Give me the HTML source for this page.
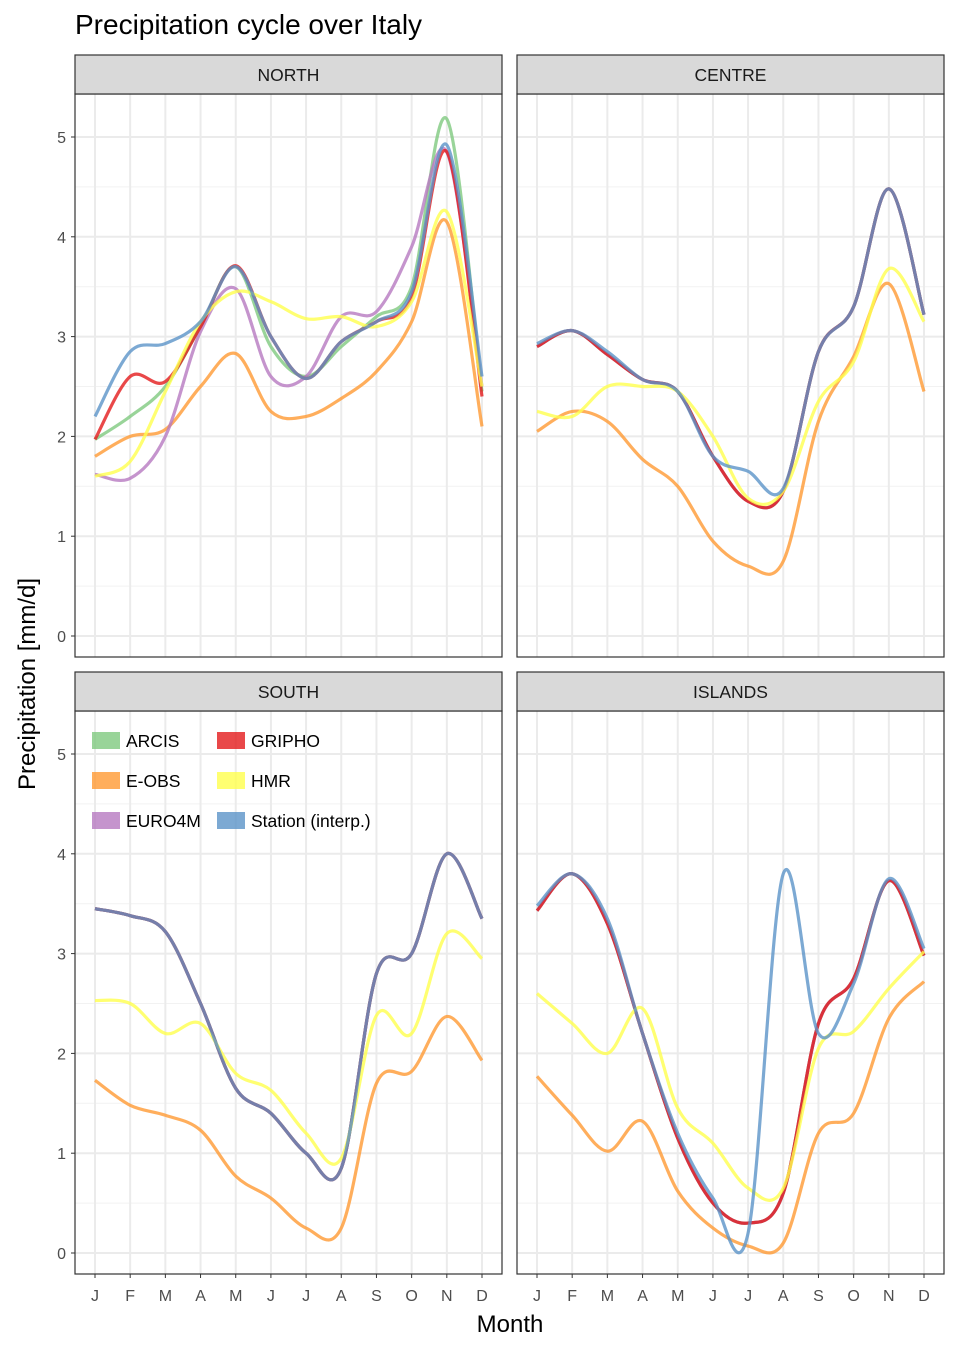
<!DOCTYPE html>
<html><head><meta charset="utf-8"><style>
body{margin:0;background:#fff;}
svg{display:block;font-family:"Liberation Sans",sans-serif;}
</style></head><body>
<svg id="c" width="958" height="1350"></svg>
<script>
const months=["J","F","M","A","M","J","J","A","S","O","N","D"];
const yTicks=[0,1,2,3,4,5];
const seriesNames=["ARCIS","E-OBS","EURO4M","GRIPHO","HMR","Station (interp.)"];
const seriesColors=["#7fc97f","#ff9a33","#b779c0","#e41a1c","#ffff4d","#5b94c8"];
const panelNames=["NORTH","CENTRE","SOUTH","ISLANDS"];
const northARCIS=[1.97,2.2,2.5,3.1,3.7,2.9,2.6,2.9,3.2,3.5,5.18,2.45];
const northEOBS=[1.8,2.0,2.07,2.5,2.83,2.25,2.2,2.38,2.65,3.15,4.15,2.1];
const northEURO4M=[1.62,1.58,2.0,3.05,3.48,2.6,2.6,3.2,3.25,3.9,4.85,2.5];
const northGRIPHO=[1.97,2.6,2.55,3.1,3.71,3.0,2.58,2.95,3.15,3.4,4.85,2.4];
const northHMR=[1.6,1.75,2.45,3.15,3.45,3.35,3.18,3.2,3.1,3.35,4.25,2.5];
const northStation=[2.2,2.85,2.93,3.15,3.7,3.0,2.58,2.95,3.15,3.45,4.92,2.6];
const centreMain=[2.9,3.06,2.82,2.57,2.45,1.8,1.35,1.45,2.85,3.3,4.48,3.22];
const centreEOBS=[2.05,2.25,2.15,1.77,1.5,0.95,0.7,0.75,2.15,2.8,3.53,2.45];
const centreHMR=[2.25,2.2,2.5,2.5,2.45,2.0,1.38,1.45,2.35,2.75,3.68,3.15];
const centreStation=[2.93,3.06,2.85,2.57,2.45,1.8,1.65,1.48,2.85,3.3,4.48,3.22];
const southMain=[3.45,3.38,3.22,2.5,1.65,1.4,1.0,0.85,2.8,3.0,4.0,3.35];
const southEOBS=[1.73,1.48,1.38,1.23,0.77,0.55,0.25,0.25,1.7,1.82,2.37,1.93];
const southHMR=[2.53,2.5,2.2,2.3,1.8,1.63,1.2,0.95,2.38,2.2,3.2,2.95];
const islandsMain=[3.43,3.8,3.3,2.2,1.15,0.5,0.3,0.6,2.3,2.75,3.73,2.98];
const islandsEOBS=[1.77,1.38,1.02,1.32,0.62,0.25,0.07,0.1,1.2,1.4,2.35,2.72];
const islandsHMR=[2.6,2.3,2.0,2.45,1.45,1.1,0.65,0.65,2.05,2.22,2.65,3.02];
const islandsStation=[3.48,3.8,3.35,2.2,1.2,0.55,0.2,3.8,2.2,2.7,3.75,3.05];
const panelData=[
 [northARCIS,northEOBS,northEURO4M,northGRIPHO,northHMR,northStation],
 [centreMain,centreEOBS,centreMain,centreMain,centreHMR,centreStation],
 [southMain,southEOBS,southMain,southMain,southHMR,southMain],
 [islandsMain,islandsEOBS,islandsMain,islandsMain,islandsHMR,islandsStation]
];
const NS="http://www.w3.org/2000/svg";
const svg=document.getElementById('c');
function mk(tag,attrs,parent){const e=document.createElementNS(NS,tag);for(const k in attrs)e.setAttribute(k,attrs[k]);(parent||svg).appendChild(e);return e;}
const panels=[{x:75,y:94,s:55},{x:517,y:94,s:55},{x:75,y:711,s:672},{x:517,y:711,s:672}];
const PW=427,PH=563;
function path(pts){
 let d="M"+pts[0][0]+","+pts[0][1];
 for(let i=0;i<pts.length-1;i++){
  const p0=pts[Math.max(i-1,0)],p1=pts[i],p2=pts[i+1],p3=pts[Math.min(i+2,pts.length-1)];
  const c1=[p1[0]+(p2[0]-p0[0])/6,p1[1]+(p2[1]-p0[1])/6];
  const c2=[p2[0]-(p3[0]-p1[0])/6,p2[1]-(p3[1]-p1[1])/6];
  d+=" C"+c1[0]+","+c1[1]+" "+c2[0]+","+c2[1]+" "+p2[0]+","+p2[1];
 }
 return d;
}
panels.forEach((p,pi)=>{
 const g=mk('g',{});
 
 
 const xs=i=>p.x+20+i*(387/11);
 const ys=v=>p.y+542-v*99.8;
 mk('rect',{x:p.x,y:p.y,width:PW,height:PH,fill:'#fff'},g);
 for(let v=0.5;v<5.6;v+=1) mk('line',{x1:p.x,x2:p.x+PW,y1:ys(v),y2:ys(v),stroke:'#f2f2f2','stroke-width':1},g);
 yTicks.forEach(v=>mk('line',{x1:p.x,x2:p.x+PW,y1:ys(v),y2:ys(v),stroke:'#ebebeb','stroke-width':2},g));
 months.forEach((m,i)=>mk('line',{x1:xs(i),x2:xs(i),y1:p.y,y2:p.y+PH,stroke:'#ebebeb','stroke-width':2},g));
 panelData[pi].forEach((arr,si)=>{
  const l=mk('path',{d:path(arr.map((v,i)=>[xs(i),ys(v)])),fill:'none',stroke:seriesColors[si],'stroke-width':3.2,'stroke-opacity':0.8,'stroke-linejoin':'round'},g);
  
  
 });
 mk('rect',{x:p.x,y:p.y,width:PW,height:PH,fill:'none',stroke:'#333','stroke-width':1.2},g);
 const st=mk('rect',{x:p.x,y:p.s,width:PW,height:p.y-p.s,fill:'#d9d9d9',stroke:'#333','stroke-width':1.2},g);
 
 
 const t=mk('text',{x:p.x+PW/2,y:p.s+26,'text-anchor':'middle','font-size':17.5,fill:'#1a1a1a'},g);t.textContent=panelNames[pi];
 if(pi%2===0){yTicks.forEach(v=>{
  mk('line',{x1:p.x-4,x2:p.x,y1:ys(v),y2:ys(v),stroke:'#333'},g);
  const tt=mk('text',{x:p.x-9,y:ys(v)+6,'text-anchor':'end','font-size':16,fill:'#4d4d4d'},g);tt.textContent=v;
 });}
 if(pi>=2){months.forEach((m,i)=>{
  mk('line',{x1:xs(i),x2:xs(i),y1:p.y+PH,y2:p.y+PH+4,stroke:'#333'},g);
  const tt=mk('text',{x:xs(i),y:p.y+PH+27,'text-anchor':'middle','font-size':16,fill:'#4d4d4d'},g);tt.textContent=m;
 });}
});
const lg=mk('g',{});


const legendOrder=[0,3,1,4,2,5];
legendOrder.forEach((si,k)=>{
 const col=k%2,row=Math.floor(k/2);
 const x=col?217:92,y=732+row*40;
 mk('rect',{x:x,y:y,width:28,height:17,fill:seriesColors[si],'fill-opacity':0.8},lg);
 const t=mk('text',{x:x+34,y:y+15,'font-size':17.5,fill:'#000'},lg);t.textContent=seriesNames[si];
});
const title=mk('text',{x:75,y:34,'font-size':28,fill:'#000'});title.textContent="Precipitation cycle over Italy";

const xt=mk('text',{x:510,y:1332,'text-anchor':'middle','font-size':24,fill:'#000'});xt.textContent="Month";

const yt=mk('text',{x:35,y:684,'text-anchor':'middle','font-size':24,fill:'#000',transform:'rotate(-90 35 684)'});yt.textContent="Precipitation [mm/d]";

</script>
</body></html>
